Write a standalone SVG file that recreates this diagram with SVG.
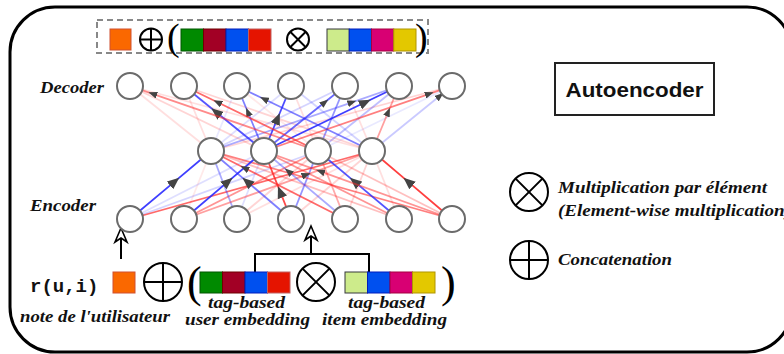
<svg xmlns="http://www.w3.org/2000/svg" width="784" height="354" viewBox="0 0 784 354">
<style>
.node{fill:#fff;stroke:#6b6b6b;stroke-width:2}
.b{stroke:#2a2aff;stroke-width:1.8;fill:none}
.r{stroke:#ff2a2a;stroke-width:1.8;fill:none}
.sym{fill:none;stroke:#000;stroke-width:2}
.lbl{font-family:"Liberation Serif","DejaVu Serif",serif;font-weight:bold;font-style:italic;font-size:16px;fill:#111}
.leg{font-family:"Liberation Serif","DejaVu Serif",serif;font-weight:bold;font-style:italic;font-size:17px;fill:#111}
.par{font-family:"Liberation Serif","DejaVu Serif",serif;fill:#000}
.k{stroke-width:1.2}
</style>
<defs>
<marker id="ah" markerUnits="userSpaceOnUse" markerWidth="12" markerHeight="10" refX="6" refY="5" orient="auto" viewBox="0 0 12 10"><path d="M0,0 L12,5 L0,10 z" fill="#444"/></marker>
<marker id="as" markerUnits="userSpaceOnUse" markerWidth="9" markerHeight="7" refX="4.5" refY="3.5" orient="auto" viewBox="0 0 9 7"><path d="M0,0 L9,3.5 L0,7 z" fill="#444"/></marker>
</defs>

<rect id="frame" x="10" y="7" width="782" height="345" rx="45" fill="none" stroke="#000" stroke-width="3"/>

<g id="connectors">
<!-- encoder -> hidden -->
<line class="b" x1="130" y1="219" x2="264" y2="151" stroke-opacity="0.15"/>
<line class="b" x1="130" y1="219" x2="318" y2="151" stroke-opacity="0.2"/>
<line class="r" x1="130" y1="219" x2="372" y2="151" stroke-opacity="0.7"/>
<line class="r" x1="184" y1="219" x2="211" y2="151" stroke-opacity="0.1"/>
<line class="r" x1="184" y1="219" x2="318" y2="151" stroke-opacity="0.5"/>
<line class="b" x1="237" y1="219" x2="211" y2="151" stroke-opacity="0.4"/>
<line class="b" x1="237" y1="219" x2="264" y2="151" stroke-opacity="0.15"/>
<line class="r" x1="237" y1="219" x2="318" y2="151" stroke-opacity="0.2"/>
<line class="r" x1="237" y1="219" x2="372" y2="151" stroke-opacity="0.15"/>
<line class="b" x1="291" y1="219" x2="318" y2="151" stroke-opacity="0.5"/>
<line class="r" x1="291" y1="219" x2="372" y2="151" stroke-opacity="0.2"/>
<line class="r" x1="345" y1="219" x2="318" y2="151" stroke-opacity="0.4"/>
<line class="r" x1="345" y1="219" x2="372" y2="151" stroke-opacity="0.2"/>
<line class="r" x1="399" y1="219" x2="211" y2="151" stroke-opacity="0.3"/>
<line class="r" x1="399" y1="219" x2="264" y2="151" stroke-opacity="0.5"/>
<line class="r" x1="399" y1="219" x2="372" y2="151" stroke-opacity="0.15"/>
<line class="r" x1="452" y1="219" x2="211" y2="151" stroke-opacity="0.6"/>
<line class="r" x1="452" y1="219" x2="318" y2="151" stroke-opacity="0.3"/>
<path class="b" d="M130,219 L174.6,181.6 L211,151" stroke-opacity="0.9" marker-mid="url(#ah)"/>
<path class="b" d="M184,219 L228,181.6 L264,151" stroke-opacity="0.9" marker-mid="url(#ah)"/>
<path class="r" d="M184,219 L306.2,174.8 L372,151" stroke-opacity="0.45" marker-mid="url(#as)"/>
<path class="b" d="M291,219 L247,181.6 L211,151" stroke-opacity="0.6" marker-mid="url(#ah)"/>
<path class="r" d="M291,219 L280.2,191.8 L264,151" stroke-opacity="0.85" marker-mid="url(#ah)"/>
<path class="r" d="M345,219 L244.5,168 L211,151" stroke-opacity="0.7" marker-mid="url(#as)"/>
<path class="b" d="M345,219 L288.3,171.4 L264,151" stroke-opacity="0.4" marker-mid="url(#as)"/>
<path class="b" d="M399,219 L354.5,181.6 L318,151" stroke-opacity="0.8" marker-mid="url(#ah)"/>
<path class="r" d="M452,219 L320.4,171.4 L264,151" stroke-opacity="0.5" marker-mid="url(#as)"/>
<path class="r" d="M452,219 L408,181.6 L372,151" stroke-opacity="0.9" marker-mid="url(#ah)"/>
<!-- hidden -> decoder -->
<line class="r" x1="211" y1="151" x2="130" y2="86" stroke-opacity="0.15"/>
<line class="r" x1="211" y1="151" x2="184" y2="86" stroke-opacity="0.15"/>
<line class="b" x1="211" y1="151" x2="237" y2="86" stroke-opacity="0.1"/>
<line class="b" x1="211" y1="151" x2="291" y2="86" stroke-opacity="0.15"/>
<line class="b" x1="211" y1="151" x2="345" y2="86" stroke-opacity="0.2"/>
<line class="r" x1="211" y1="151" x2="452" y2="86" stroke-opacity="0.2"/>
<line class="r" x1="264" y1="151" x2="130" y2="86" stroke-opacity="0.2"/>
<line class="r" x1="318" y1="151" x2="237" y2="86" stroke-opacity="0.1"/>
<line class="r" x1="318" y1="151" x2="291" y2="86" stroke-opacity="0.15"/>
<line class="b" x1="318" y1="151" x2="345" y2="86" stroke-opacity="0.5"/>
<line class="b" x1="318" y1="151" x2="399" y2="86" stroke-opacity="0.3"/>
<line class="b" x1="318" y1="151" x2="452" y2="86" stroke-opacity="0.1"/>
<line class="r" x1="372" y1="151" x2="130" y2="86" stroke-opacity="0.15"/>
<line class="r" x1="372" y1="151" x2="184" y2="86" stroke-opacity="0.2"/>
<line class="b" x1="372" y1="151" x2="291" y2="86" stroke-opacity="0.2"/>
<line class="r" x1="372" y1="151" x2="345" y2="86" stroke-opacity="0.15"/>
<path class="b" d="M211,151 L352,102.3 L399,86" stroke-opacity="0.4" marker-mid="url(#as)"/>
<path class="b" d="M264,151 L216,112 L184,86" stroke-opacity="0.8" marker-mid="url(#ah)"/>
<path class="b" d="M264,151 L247.8,112 L237,86" stroke-opacity="0.6" marker-mid="url(#as)"/>
<path class="b" d="M264,151 L277.5,118.5 L291,86" stroke-opacity="0.85" marker-mid="url(#ah)"/>
<path class="b" d="M264,151 L324.8,102.3 L345,86" stroke-opacity="0.7" marker-mid="url(#as)"/>
<path class="b" d="M264,151 L365.3,102.3 L399,86" stroke-opacity="0.9" marker-mid="url(#ah)"/>
<path class="r" d="M264,151 L429.4,93.8 L452,86" stroke-opacity="0.6" marker-mid="url(#as)"/>
<path class="r" d="M318,151 L152.6,93.8 L130,86" stroke-opacity="0.55" marker-mid="url(#as)"/>
<path class="r" d="M318,151 L217.5,102.3 L184,86" stroke-opacity="0.7" marker-mid="url(#as)"/>
<path class="b" d="M372,151 L264,99 L237,86" stroke-opacity="0.6" marker-mid="url(#as)"/>
<path class="r" d="M372,151 L388.2,112 L399,86" stroke-opacity="0.45" marker-mid="url(#as)"/>
<path class="b" d="M372,151 L440,95.8 L452,86" stroke-opacity="0.25" marker-mid="url(#as)"/>
<!-- input arrows -->
<path class="sym" d="M121,259 V238"/>
<path d="M121,228 L127,242 L121,238 L115,242 Z" fill="#fff" stroke="#000" stroke-width="1.6" stroke-linejoin="miter"/>
<path class="sym" d="M255,272 V254 H369 V272 M311,254 V236"/>
<path d="M311,226 L317,240 L311,236 L305,240 Z" fill="#fff" stroke="#000" stroke-width="1.6"/>
</g>

<g id="decoder">
<circle class="node" cx="130" cy="86" r="13"/>
<circle class="node" cx="184" cy="86" r="13"/>
<circle class="node" cx="237" cy="86" r="13"/>
<circle class="node" cx="291" cy="86" r="13"/>
<circle class="node" cx="345" cy="86" r="13"/>
<circle class="node" cx="399" cy="86" r="13"/>
<circle class="node" cx="452" cy="86" r="13"/>
</g>
<g id="hidden">
<circle class="node" cx="211" cy="151" r="13"/>
<circle class="node" cx="264" cy="151" r="13"/>
<circle class="node" cx="318" cy="151" r="13"/>
<circle class="node" cx="372" cy="151" r="13"/>
</g>
<g id="encoder">
<circle class="node" cx="130" cy="219" r="13"/>
<circle class="node" cx="184" cy="219" r="13"/>
<circle class="node" cx="237" cy="219" r="13"/>
<circle class="node" cx="291" cy="219" r="13"/>
<circle class="node" cx="345" cy="219" r="13"/>
<circle class="node" cx="399" cy="219" r="13"/>
<circle class="node" cx="452" cy="219" r="13"/>
</g>

<g id="labels">
<text class="lbl" x="40" y="93" textLength="64" lengthAdjust="spacingAndGlyphs">Decoder</text>
<text class="lbl" x="30" y="211" textLength="66" lengthAdjust="spacingAndGlyphs">Encoder</text>
</g>

<g id="output-vector">
<rect x="97" y="20" width="331" height="33" fill="none" stroke="#888" stroke-width="2" stroke-dasharray="6,4"/>
<rect x="110" y="29" width="21" height="21" fill="#fa6800" stroke="#d05030"/>
<circle class="sym" cx="151" cy="39.5" r="11"/>
<path class="sym" d="M140,39.5 H162 M151,28.5 V50.5"/>
<text class="par" x="167" y="50" font-size="38">(</text>
<rect x="181" y="29" width="22.5" height="22" fill="#008a00" stroke="#005700"/>
<rect x="203.5" y="29" width="22.5" height="22" fill="#a20025" stroke="#6f0000"/>
<rect x="226" y="29" width="22.5" height="22" fill="#0050ef" stroke="#001dbc"/>
<rect x="248.5" y="29" width="22.5" height="22" fill="#e51400" stroke="#c06060"/>
<circle class="sym" cx="298" cy="39.5" r="11"/>
<path class="sym" d="M290.2,31.7 L305.8,47.3 M305.8,31.7 L290.2,47.3"/>
<rect x="327" y="29" width="22.25" height="22" fill="#cdeb8b" stroke="#36393d"/>
<rect x="349.25" y="29" width="22.25" height="22" fill="#0050ef" stroke="#001dbc"/>
<rect x="371.5" y="29" width="22.25" height="22" fill="#d80073" stroke="#a50040"/>
<rect x="393.75" y="29" width="22.25" height="22" fill="#e3c800" stroke="#b09500"/>
<text class="par" x="415" y="50" font-size="38">)</text>
</g>

<g id="input-vector">
<text x="30" y="292" font-family="'Liberation Mono','DejaVu Sans Mono',monospace" font-weight="bold" font-size="19" fill="#111">r(u,i)</text>
<rect x="113" y="272" width="22" height="21" fill="#fa6800" stroke="#d05030"/>
<circle class="sym" cx="163" cy="282" r="19"/>
<path class="sym" d="M144,282 H182 M163,263 V301"/>
<text class="par" x="187" y="297" font-size="44">(</text>
<rect x="200" y="272" width="22.5" height="21" fill="#008a00" stroke="#005700"/>
<rect x="222.5" y="272" width="22.5" height="21" fill="#a20025" stroke="#6f0000"/>
<rect x="245" y="272" width="22.5" height="21" fill="#0050ef" stroke="#001dbc"/>
<rect x="267.5" y="272" width="22.5" height="21" fill="#e51400" stroke="#c06060"/>
<circle class="sym" cx="316" cy="282" r="19"/>
<path class="sym" d="M302.6,268.6 L329.4,295.4 M329.4,268.6 L302.6,295.4"/>
<rect x="345" y="272" width="22.5" height="21" fill="#cdeb8b" stroke="#36393d"/>
<rect x="367.5" y="272" width="22.5" height="21" fill="#0050ef" stroke="#001dbc"/>
<rect x="390" y="272" width="22.5" height="21" fill="#d80073" stroke="#a50040"/>
<rect x="412.5" y="272" width="22.5" height="21" fill="#e3c800" stroke="#b09500"/>
<text class="par" x="441" y="297" font-size="44">)</text>
<text class="lbl" x="20" y="322" textLength="150" lengthAdjust="spacingAndGlyphs">note de l'utilisateur</text>
<text class="lbl" x="208" y="308" textLength="77" lengthAdjust="spacingAndGlyphs">tag-based</text>
<text class="lbl" x="185" y="325" textLength="125" lengthAdjust="spacingAndGlyphs">user embedding</text>
<text class="lbl" x="348" y="308" textLength="77" lengthAdjust="spacingAndGlyphs">tag-based</text>
<text class="lbl" x="322" y="325" textLength="125" lengthAdjust="spacingAndGlyphs">item embedding</text>
</g>

<g id="title">
<rect x="555" y="63" width="159" height="52" fill="none" stroke="#222" stroke-width="2"/>
<text x="634.5" y="97" text-anchor="middle" font-family="'Liberation Sans',Arial,sans-serif" font-weight="bold" font-size="21" fill="#111" textLength="138" lengthAdjust="spacingAndGlyphs">Autoencoder</text>
</g>

<g id="legend">
<circle class="sym" cx="529" cy="192" r="19"/>
<path class="sym" d="M515.6,178.6 L542.4,205.4 M542.4,178.6 L515.6,205.4"/>
<text class="leg" x="558" y="193" textLength="209" lengthAdjust="spacingAndGlyphs">Multiplication par élément</text>
<text class="leg" x="558" y="216" textLength="233" lengthAdjust="spacingAndGlyphs">(Element-wise multiplication)</text>
<circle class="sym" cx="529" cy="260" r="19"/>
<path class="sym" d="M510,260 H548 M529,241 V279"/>
<text class="leg" x="558" y="265" textLength="114" lengthAdjust="spacingAndGlyphs">Concatenation</text>
</g>
</svg>
